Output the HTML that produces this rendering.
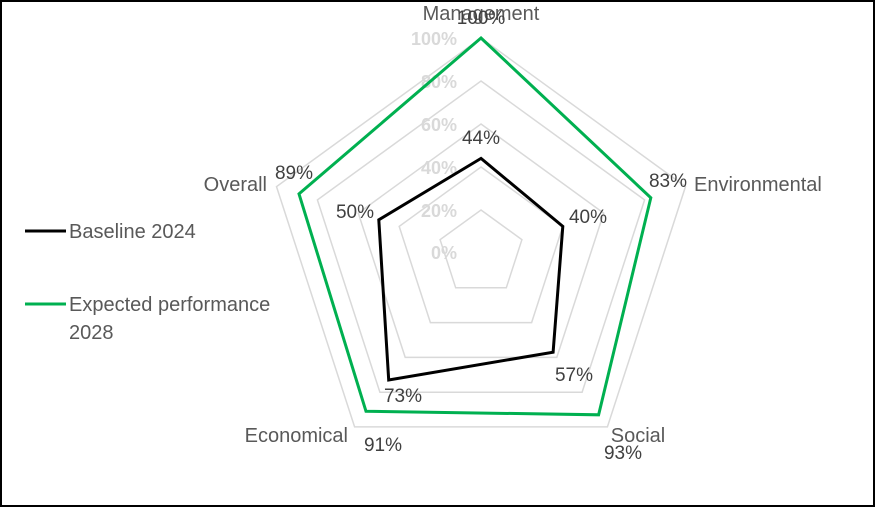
<!DOCTYPE html>
<html><head><meta charset="utf-8"><style>
html,body{margin:0;padding:0;background:#fff}
svg{display:block;font-family:"Liberation Sans",sans-serif}
</style></head><body>
<svg width="875" height="507" viewBox="0 0 875 507" xmlns="http://www.w3.org/2000/svg">
<rect x="1" y="1" width="873" height="505" fill="#fff" stroke="#000" stroke-width="2"/>
<g fill="none" stroke="#d9d9d9" stroke-width="1.5">
<polygon points="481,210 521.9,239.7 506.3,287.8 455.7,287.8 440.1,239.7"/>
<polygon points="481,167 562.8,226.4 531.6,322.6 430.4,322.6 399.2,226.4"/>
<polygon points="481,124 603.7,213.1 556.8,357.4 405.2,357.4 358.3,213.1"/>
<polygon points="481,81 644.6,199.9 582.1,392.2 379.9,392.2 317.4,199.9"/>
<polygon points="481,38 685.5,186.6 607.4,426.9 354.6,426.9 276.5,186.6"/>
</g>
<g fill="#d9d9d9" font-size="18" font-weight="bold" text-anchor="end">
<text x="457" y="259">0%</text>
<text x="457" y="217">20%</text>
<text x="457" y="174">40%</text>
<text x="457" y="131">60%</text>
<text x="457" y="88">80%</text>
<text x="457" y="45">100%</text>
</g>
<polygon points="481,38 650.8,197.8 598.6,414.8 366,411.3 299,193.9" fill="none" stroke="#00b050" stroke-width="3" stroke-linejoin="miter"/>
<polygon points="481,158.4 562.8,226.4 553.1,352.2 388.7,380 378.8,219.8" fill="none" stroke="#000" stroke-width="3"/>
<g fill="#595959" font-size="20">
<text x="481" y="20" text-anchor="middle">Management</text>
<text x="694" y="191">Environmental</text>
<text x="638" y="442" text-anchor="middle">Social</text>
<text x="348" y="442" text-anchor="end">Economical</text>
<text x="267" y="191" text-anchor="end">Overall</text>
</g>
<g fill="#404040" font-size="19" text-anchor="middle">
<text x="481" y="144">44%</text>
<text x="588" y="223">40%</text>
<text x="574" y="381">57%</text>
<text x="403" y="402">73%</text>
<text x="355" y="218">50%</text>
<text x="481" y="24">100%</text>
<text x="668" y="187">83%</text>
<text x="623" y="459">93%</text>
<text x="383" y="451">91%</text>
<text x="294" y="179">89%</text>
</g>
<line x1="25" y1="231" x2="66" y2="231" stroke="#000" stroke-width="3"/>
<line x1="25" y1="304" x2="66" y2="304" stroke="#00b050" stroke-width="3"/>
<g fill="#595959" font-size="20">
<text x="69" y="238">Baseline 2024</text>
<text x="69" y="311">Expected performance</text>
<text x="69" y="339">2028</text>
</g>
</svg>
</body></html>
